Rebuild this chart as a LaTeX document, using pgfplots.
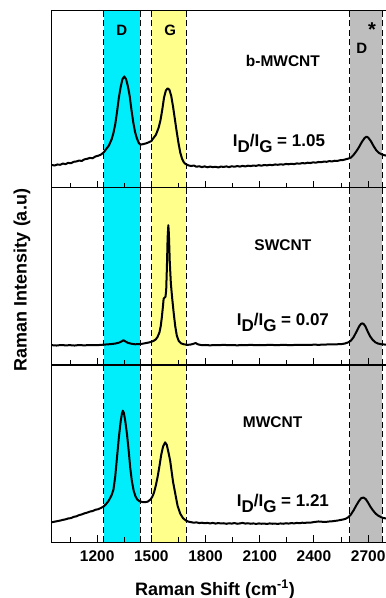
\documentclass[border=0pt]{standalone}
\usepackage{pgfplots}
\pgfplotsset{compat=1.18}
\usepackage{fontspec}
\setmainfont{Liberation Sans}
\definecolor{dcyan}{RGB}{0,238,252}
\definecolor{gyellow}{RGB}{255,255,140}
\definecolor{dgray}{RGB}{190,190,190}

\tikzset{
  dsh/.style={line width=0.9pt, dash pattern=on 6pt off 3.5pt},
  spec/.style={black, line width=2pt, line join=round},
}
\pgfplotsset{
  panel/.style={
    scale only axis, width=340pt, height=177pt,
    xmin=950, xmax=2832, ymin=0, ymax=1,
    ytick=\empty,
    xtick={1200,1500,...,2700},
    minor xtick={1050,1350,...,2550},
    xtick pos=bottom, tick align=inside,
    major tick length=7pt, minor tick length=4.5pt,
    axis line style={line width=1pt},
    every tick/.style={line width=1pt, black},
    axis on top,
    xticklabel style={font=\bfseries\fontsize{15.5}{18}\selectfont, yshift=-5pt},
    /pgf/number format/assume math mode=true,
    /pgf/number format/set thousands separator={},
  },
}
\newcommand{\bands}{%
  \fill[dcyan] (axis cs:1236,0) rectangle (axis cs:1438,1);
  \fill[gyellow] (axis cs:1504,0) rectangle (axis cs:1692,1);
  \fill[dgray] (axis cs:2597,0) rectangle (axis cs:2777,1);
  \draw[dsh] (axis cs:1235,0) -- (axis cs:1235,1);
  \draw[dsh] (axis cs:1439,0) -- (axis cs:1439,1);
  \draw[dsh] (axis cs:1503,0) -- (axis cs:1503,1);
  \draw[dsh] (axis cs:1693,0) -- (axis cs:1693,1);
  \draw[dsh] (axis cs:2597,0) -- (axis cs:2597,1);
  \draw[dsh] (axis cs:2777,0) -- (axis cs:2777,1);
}
\newcommand{\idig}[1]{\fontsize{17}{20}\selectfont\bfseries I\raisebox{-6pt}{D}/I\raisebox{-6pt}{G} = #1}

\begin{document}
\begin{tikzpicture}
% ---------- bottom: MWCNT ----------
\begin{axis}[panel, at={(0pt,0pt)}, anchor=south west]
\bands
\addplot[spec] coordinates {
(950,0.112) (965,0.115) (980,0.118) (995,0.121) (1010,0.125) (1025,0.128) (1040,0.133) (1055,0.135)
(1070,0.142) (1085,0.145) (1100,0.152) (1115,0.156) (1130,0.162) (1145,0.166) (1160,0.172) (1175,0.175)
(1190,0.182) (1205,0.185) (1220,0.192) (1235,0.200) (1250,0.215) (1265,0.235) (1280,0.265) (1290,0.295)
(1300,0.370) (1310,0.480) (1320,0.590) (1330,0.680) (1337,0.725) (1342,0.742) (1348,0.730) (1356,0.680)
(1365,0.610) (1375,0.510) (1383,0.420) (1392,0.345) (1402,0.290) (1412,0.258) (1422,0.240) (1435,0.230)
(1450,0.226) (1465,0.225) (1480,0.228) (1495,0.240) (1505,0.255) (1515,0.280) (1525,0.320) (1535,0.370)
(1545,0.430) (1555,0.495) (1565,0.540) (1576,0.563) (1585,0.550) (1595,0.505) (1604,0.460) (1612,0.400)
(1620,0.340) (1632,0.275) (1645,0.205) (1660,0.160) (1675,0.135) (1690,0.122) (1705,0.115) (1720,0.112)
(1735,0.109) (1750,0.111) (1765,0.107) (1780,0.109) (1795,0.106) (1810,0.108) (1825,0.105) (1840,0.108)
(1855,0.104) (1870,0.107) (1885,0.105) (1900,0.106) (1915,0.103) (1930,0.106) (1945,0.104) (1960,0.107)
(1975,0.103) (1990,0.105) (2005,0.108) (2020,0.104) (2035,0.106) (2050,0.103) (2065,0.105) (2080,0.102)
(2095,0.105) (2110,0.103) (2125,0.104) (2140,0.102) (2155,0.105) (2170,0.103) (2185,0.104) (2200,0.102)
(2215,0.105) (2230,0.103) (2245,0.106) (2260,0.104) (2275,0.107) (2290,0.105) (2305,0.108) (2320,0.106)
(2335,0.109) (2350,0.108) (2365,0.110) (2380,0.109) (2395,0.112) (2410,0.114) (2425,0.116) (2440,0.115)
(2455,0.113) (2470,0.114) (2485,0.116) (2500,0.117) (2515,0.119) (2530,0.121) (2545,0.124) (2560,0.127)
(2575,0.131) (2590,0.140) (2605,0.156) (2620,0.180) (2635,0.208) (2650,0.233) (2662,0.248) (2674,0.251)
(2686,0.243) (2698,0.225) (2712,0.200) (2727,0.178) (2742,0.160) (2757,0.148) (2772,0.140) (2787,0.135)
(2805,0.132) (2832,0.130)
};
\node[anchor=base, font=\bfseries\fontsize{15.5}{18}\selectfont] at (axis cs:2171,0.648) {MWCNT};
\node[anchor=base] at (axis cs:2228,0.198) {\idig{1.21}};
\end{axis}
% ---------- middle: SWCNT ----------
\begin{axis}[panel, at={(0pt,177pt)}, anchor=south west, xticklabels={}]
\bands
\addplot[spec] coordinates {
(950,0.112) (975,0.110) (1000,0.113) (1025,0.111) (1050,0.112) (1075,0.110) (1100,0.113) (1125,0.111)
(1150,0.112) (1175,0.113) (1200,0.112) (1225,0.114) (1250,0.116) (1275,0.118) (1300,0.121) (1320,0.126)
(1335,0.133) (1345,0.140) (1355,0.134) (1370,0.125) (1390,0.120) (1410,0.117) (1430,0.118) (1450,0.120)
(1470,0.124) (1490,0.128) (1510,0.135) (1525,0.145) (1535,0.160) (1545,0.185) (1552,0.220) (1558,0.270)
(1564,0.330) (1568,0.375) (1573,0.380) (1578,0.385) (1582,0.420) (1586,0.550) (1590,0.720) (1594,0.790)
(1597,0.740) (1602,0.580) (1608,0.460) (1615,0.380) (1623,0.300) (1632,0.220) (1641,0.165) (1652,0.135)
(1665,0.122) (1680,0.117) (1700,0.114) (1715,0.115) (1730,0.119) (1745,0.124) (1760,0.116) (1780,0.112)
(1800,0.113) (1825,0.111) (1850,0.113) (1875,0.112) (1900,0.114) (1925,0.112) (1950,0.113) (1975,0.111)
(2000,0.113) (2025,0.112) (2050,0.114) (2075,0.112) (2100,0.113) (2125,0.112) (2150,0.114) (2175,0.113)
(2200,0.112) (2225,0.114) (2250,0.113) (2275,0.112) (2300,0.114) (2325,0.113) (2350,0.114) (2375,0.113)
(2400,0.115) (2425,0.114) (2450,0.115) (2475,0.116) (2500,0.116) (2525,0.117) (2550,0.118) (2570,0.121)
(2590,0.128) (2605,0.138) (2620,0.158) (2635,0.188) (2650,0.218) (2660,0.232) (2667,0.235) (2675,0.232)
(2685,0.218) (2695,0.195) (2710,0.163) (2725,0.142) (2740,0.128) (2755,0.121) (2775,0.117) (2800,0.115)
(2832,0.114)
};
\node[anchor=base, font=\bfseries\fontsize{15.5}{18}\selectfont] at (axis cs:2228,0.648) {SWCNT};
\node[anchor=base] at (axis cs:2228,0.222) {\idig{0.07}};
\end{axis}
% ---------- top: b-MWCNT ----------
\begin{axis}[panel, at={(0pt,354pt)}, anchor=south west, xticklabels={}]
\bands
\addplot[spec] coordinates {
(950,0.130) (965,0.127) (980,0.133) (995,0.131) (1010,0.138) (1025,0.135) (1040,0.142) (1055,0.140)
(1070,0.148) (1085,0.150) (1100,0.155) (1115,0.153) (1130,0.162) (1145,0.165) (1160,0.170) (1175,0.168)
(1190,0.178) (1205,0.182) (1220,0.188) (1235,0.200) (1250,0.220) (1265,0.240) (1280,0.275) (1290,0.310)
(1300,0.360) (1310,0.430) (1320,0.510) (1330,0.570) (1340,0.615) (1350,0.630) (1360,0.615) (1370,0.575)
(1380,0.520) (1390,0.440) (1400,0.370) (1410,0.315) (1420,0.280) (1430,0.255) (1440,0.245) (1455,0.248)
(1470,0.252) (1485,0.258) (1500,0.265) (1510,0.280) (1525,0.300) (1540,0.340) (1550,0.380) (1560,0.440)
(1570,0.510) (1580,0.550) (1590,0.563) (1600,0.555) (1610,0.520) (1620,0.460) (1630,0.390) (1640,0.320)
(1650,0.255) (1660,0.200) (1670,0.165) (1680,0.145) (1690,0.135) (1705,0.128) (1720,0.124) (1735,0.127)
(1750,0.120) (1765,0.123) (1780,0.118) (1795,0.122) (1810,0.117) (1825,0.121) (1840,0.118) (1855,0.120)
(1870,0.116) (1885,0.121) (1900,0.119) (1915,0.122) (1930,0.118) (1945,0.123) (1960,0.120) (1975,0.124)
(1990,0.121) (2005,0.125) (2020,0.122) (2035,0.126) (2050,0.124) (2065,0.127) (2080,0.125) (2095,0.129)
(2110,0.126) (2125,0.130) (2140,0.128) (2155,0.131) (2170,0.129) (2185,0.133) (2200,0.131) (2215,0.134)
(2230,0.132) (2245,0.136) (2260,0.134) (2275,0.137) (2290,0.135) (2305,0.139) (2320,0.137) (2335,0.141)
(2350,0.139) (2365,0.143) (2380,0.141) (2395,0.145) (2410,0.143) (2425,0.147) (2440,0.146) (2455,0.149)
(2470,0.148) (2485,0.152) (2500,0.150) (2515,0.154) (2530,0.153) (2545,0.157) (2560,0.158) (2575,0.162)
(2590,0.166) (2605,0.172) (2620,0.188) (2635,0.208) (2650,0.232) (2665,0.260) (2680,0.282) (2690,0.290)
(2700,0.285) (2715,0.265) (2730,0.237) (2745,0.213) (2760,0.198) (2775,0.190) (2790,0.185) (2805,0.182)
(2832,0.178)
};
\node[anchor=base, font=\bfseries\fontsize{15.5}{18}\selectfont] at (axis cs:2228,0.685) {b-MWCNT};
\node[anchor=base] at (axis cs:2206,0.233) {\idig{1.05}};
\node[anchor=base, font=\bfseries\fontsize{15}{18}\selectfont] at (axis cs:1337,0.864) {D};
\node[anchor=base, font=\bfseries\fontsize{15}{18}\selectfont] at (axis cs:1604,0.864) {G};
\node[anchor=base, font=\bfseries\fontsize{15}{18}\selectfont] at (axis cs:2665,0.761) {D};
\node[anchor=base, font=\bfseries\fontsize{20}{22}\selectfont] at (axis cs:2722,0.855) {*};
\end{axis}
% ---------- axis titles ----------
\node[rotate=90, anchor=center, font=\bfseries\fontsize{18}{21}\selectfont] at (-30pt,262pt) {Raman Intensity (a.u)};
\node[anchor=base, font=\bfseries\fontsize{18}{21}\selectfont] at (163pt,-53pt) {Raman Shift (cm\textsuperscript{-1})};
\pgfresetboundingbox
\path[use as bounding box] (-52pt,-56pt) rectangle (334pt,542pt);
\end{tikzpicture}
\end{document}
